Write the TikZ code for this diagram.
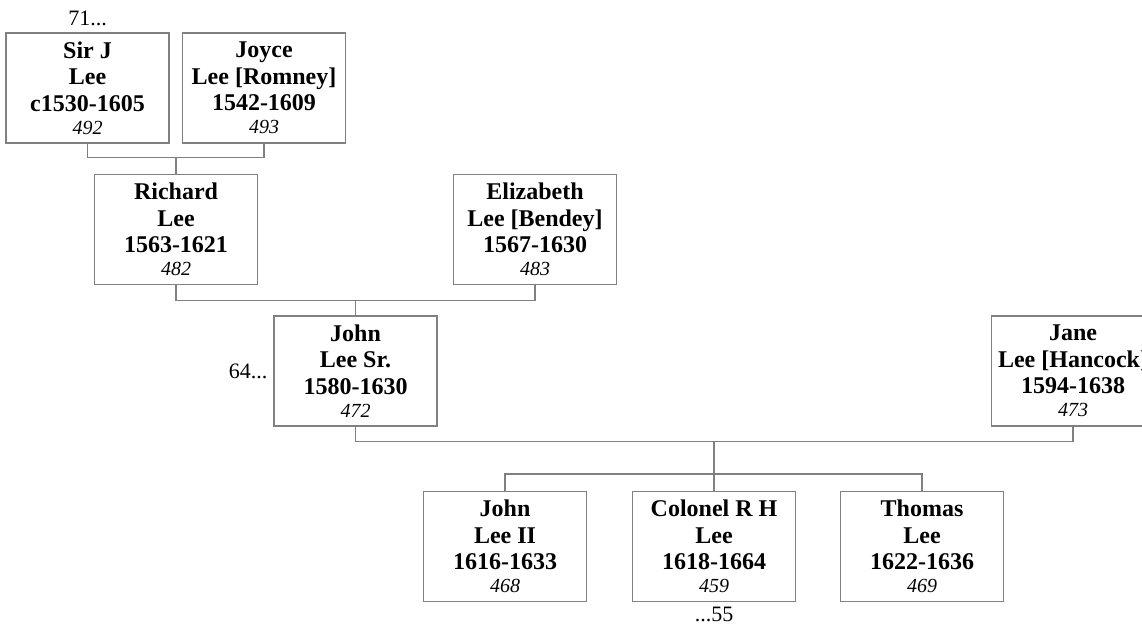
\documentclass[tikz,border=0pt]{standalone}
\usepackage{fontspec}
\setmainfont{Liberation Serif}
\usetikzlibrary{positioning}
\definecolor{linegray}{RGB}{128,128,128}
\newcommand{\refno}[1]{{\fontsize{20}{20}\selectfont\mdseries\itshape #1}}
\tikzset{
    person/.style={draw=linegray, line width=1.1pt, minimum width=163pt, minimum height=110pt,
        inner sep=0pt, align=center, font=\fontsize{24}{26.5}\selectfont\bfseries},
    link/.style={draw=linegray, line width=1.1pt},
    note/.style={inner sep=0pt, font=\fontsize{22}{24}\selectfont}
}
\begin{document}
\begin{tikzpicture}[x=1pt, y=-1pt]
\useasboundingbox (0,0) rectangle (1142,627);
\clip (0,0) rectangle (1142,627);
\begin{scope}
    \node[person] (sirj) at (87.5,88) {Sir J\\Lee\\c1530-1605\\[-3.5pt]\refno{492}};
    \node[person] (joyce) at (264,88) {Joyce\\Lee [Romney]\\1542-1609\\[-3.5pt]\refno{493}};
    \node[note, above=6pt of sirj] (up71) {71...};
    \draw[link] (sirj.south) -- ++(0,14) coordinate (u1) -| (joyce.south);
\end{scope}
\begin{scope}
    \node[person] (richard) at (176,229.5) {Richard\\Lee\\1563-1621\\[-3.5pt]\refno{482}};
    \node[person] (elizabeth) at (535,229.5) {Elizabeth\\Lee [Bendey]\\1567-1630\\[-3.5pt]\refno{483}};
    \draw[link] (richard.north) -- (richard.north |- u1);
    \draw[link] (richard.south) -- ++(0,15) coordinate (u2) -| (elizabeth.south);
\end{scope}
\begin{scope}
    \node[person] (johnsr) at (355.5,371) {John\\Lee Sr.\\1580-1630\\[-3.5pt]\refno{472}};
    \node[person] (jane) at (1073,371) {Jane\\Lee [Hancock]\\1594-1638\\[-3.5pt]\refno{473}};
    \node[note, left=6pt of johnsr] (up64) {64...};
    \draw[link] (johnsr.north) -- (johnsr.north |- u2);
    \draw[link] (johnsr.south) -- ++(0,15) coordinate (u3) -| (jane.south);
\end{scope}
\begin{scope}
    \node[person] (johnii) at (505,546.5) {John\\Lee II\\1616-1633\\[-3.5pt]\refno{468}};
    \node[person] (colonel) at (714,546.5) {Colonel R H\\Lee\\1618-1664\\[-3.5pt]\refno{459}};
    \node[person] (thomas) at (922,546.5) {Thomas\\Lee\\1622-1636\\[-3.5pt]\refno{469}};
    \node[note, below=5pt of colonel] (down55) {...55};
    \draw[link] (colonel.north) -- (colonel.north |- u3);
    \draw[link] (johnii.north) -- ++(0,-17) -| (thomas.north);
\end{scope}
\end{tikzpicture}
\end{document}
